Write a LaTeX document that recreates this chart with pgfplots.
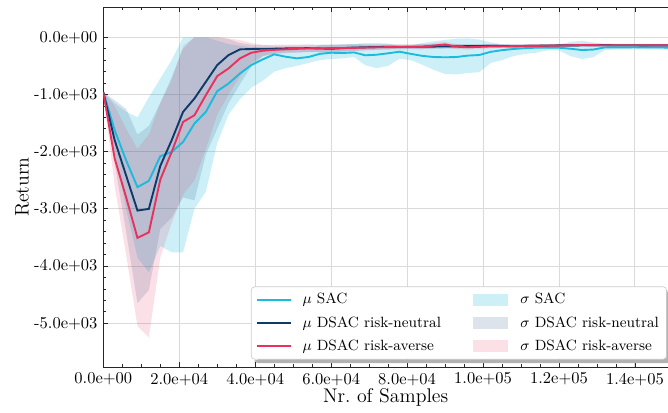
\documentclass[border=0pt]{standalone}
\usepackage{pgfplots}
\pgfplotsset{compat=1.18}
\usepackage{pgfplotstable}
\usepgfplotslibrary{fillbetween}
\usetikzlibrary{calc}

\definecolor{csac}{HTML}{1CBBDD}
\definecolor{cneu}{HTML}{0D3A6B}
\definecolor{cave}{HTML}{E8315D}
\definecolor{gridc}{HTML}{DADADA}

\pgfplotsset{
  mylineleg/.style={legend image code/.code={\draw[##1, sharp corners] (0pt,0pt) -- (21pt,0pt);}},
  myarealeg/.style={legend image code/.code={\path[##1, sharp corners] (0pt,-3.6pt) rectangle (21pt,3.6pt);}},
}

\pgfplotstableread{
x mean lo hi
0 -960 -960 -960
3000 -1625 -2000 -1150
6000 -2150 -3000 -1300
9000 -2620 -3850 -1400
12000 -2510 -4110 -1050
15000 -2080 -3650 -720
18000 -2006 -3760 -400
21000 -1831 -3760 0
24000 -1509 -3000 0
27000 -1305 -2700 0
30000 -942 -1850 -60
33000 -807 -1350 -120
36000 -632 -1080 -150
39000 -486 -880 -170
42000 -386 -760 -190
45000 -298 -600 -170
48000 -340 -540 -200
51000 -368 -500 -230
54000 -345 -450 -220
57000 -290 -400 -140
60000 -270 -380 -130
63000 -275 -370 -125
66000 -265 -345 -115
69000 -315 -490 -100
72000 -305 -540 -100
75000 -280 -500 -110
78000 -252 -375 -155
81000 -290 -400 -150
84000 -325 -480 -100
87000 -345 -570 -70
90000 -350 -640 -45
93000 -345 -650 -25
96000 -320 -625 -20
99000 -310 -610 -40
102000 -255 -450 -90
105000 -225 -400 -120
108000 -205 -330 -130
111000 -190 -290 -125
114000 -182 -270 -130
117000 -180 -230 -135
120000 -182 -230 -135
123000 -200 -330 -80
126000 -223 -380 -60
129000 -215 -350 -90
132000 -178 -225 -120
136000 -176 -210 -130
140000 -175 -210 -135
144000 -178 -215 -140
148700 -180 -215 -140
}\sac

\pgfplotstableread{
x mean lo hi
0 -960 -960 -960
3000 -1800 -2200 -1100
6000 -2415 -3400 -1250
9000 -3030 -4650 -1700
12000 -3000 -4420 -1550
15000 -2250 -3350 -1150
18000 -1800 -3150 -700
21000 -1305 -2800 -200
24000 -1070 -2850 0
27000 -779 -2050 0
30000 -486 -1600 0
33000 -310 -1150 -30
36000 -211 -820 -100
39000 -205 -500 -130
42000 -200 -330 -140
45000 -200 -280 -130
48000 -195 -265 -130
54000 -190 -255 -125
60000 -200 -270 -130
66000 -180 -235 -120
72000 -170 -215 -125
78000 -165 -205 -125
84000 -165 -210 -120
90000 -160 -200 -120
96000 -155 -190 -120
102000 -150 -180 -120
108000 -155 -185 -125
114000 -148 -175 -120
120000 -142 -170 -115
126000 -140 -165 -115
132000 -138 -162 -112
140000 -140 -165 -115
148700 -142 -168 -116
}\neu

\pgfplotstableread{
x mean lo hi
0 -960 -960 -960
3000 -2120 -2600 -1200
6000 -2795 -3800 -1600
9000 -3508 -5050 -1950
12000 -3410 -5250 -1700
15000 -2490 -3850 -1150
18000 -2006 -3250 -750
21000 -1480 -2750 -150
24000 -1363 -2500 0
27000 -1012 -1950 0
30000 -679 -1350 0
33000 -544 -1000 -20
36000 -368 -680 -50
39000 -270 -450 -100
42000 -235 -330 -130
45000 -220 -290 -150
48000 -210 -280 -150
54000 -195 -260 -140
60000 -190 -250 -130
66000 -185 -240 -130
72000 -175 -220 -130
78000 -170 -210 -130
84000 -165 -205 -125
87000 -145 -190 -100
90000 -125 -170 -80
93000 -165 -210 -120
96000 -175 -215 -135
102000 -160 -195 -125
108000 -155 -185 -125
114000 -150 -180 -120
120000 -145 -175 -115
126000 -135 -160 -110
132000 -140 -165 -115
140000 -140 -165 -115
148700 -140 -165 -115
}\ave

\begin{document}
\begin{tikzpicture}
\begin{axis}[
  scale only axis, width=342.2pt, height=218pt,
  xmin=0, xmax=148700, ymin=-5765, ymax=525,
  axis x line*=box, axis y line*=left,
  axis line style={black!85, line width=0.6pt},
  xtick={0,20000,40000,60000,80000,100000,120000,140000},
  xticklabels={0.0e+00,2.0e+04,4.0e+04,6.0e+04,8.0e+04,1.0e+05,1.2e+05,1.4e+05},
  ytick={-5000,-4000,-3000,-2000,-1000,0},
  yticklabels={-5.0e+03,-4.0e+03,-3.0e+03,-2.0e+03,-1.0e+03,0.0e+00},
  scaled x ticks=false, scaled y ticks=false,
  minor x tick num=3, minor y tick num=4,
  tick align=inside, major tick length=3pt, minor tick length=1.6pt,
  tick style={black!85, line width=0.5pt},
  xmajorgrids, ymajorgrids, major grid style={gridc, line width=0.6pt},
  xlabel={Nr.\ of Samples}, ylabel={Return},
  label style={font=\large},
  xlabel style={at={(axis description cs:0.5,-0.086)}, anchor=center},
  ylabel style={at={(axis description cs:-0.144,0.5)}, anchor=center},
  legend columns=2,
  legend cell align=left,
  legend style={name=L, at={(rel axis cs:0.998,0.021)}, anchor=south east,
    font=\small,
    draw=black!20, rounded corners=2pt, fill=white,
    inner xsep=2.6pt, inner ysep=1.8pt, row sep=2.2pt,
    /tikz/column 1/.style={column sep=4.3pt},
    /tikz/column 2/.style={column sep=17.6pt},
    /tikz/column 3/.style={column sep=5.5pt}},
]
% bands
\addplot[name path=sacL, draw=none, forget plot] table[x=x,y=lo]{\sac};
\addplot[name path=sacH, draw=none, forget plot] table[x=x,y=hi]{\sac};
\addplot[fill=csac, fill opacity=0.22, draw=none, forget plot] fill between[of=sacL and sacH];
\addplot[name path=neuL, draw=none, forget plot] table[x=x,y=lo]{\neu};
\addplot[name path=neuH, draw=none, forget plot] table[x=x,y=hi]{\neu};
\addplot[fill=cneu, fill opacity=0.14, draw=none, forget plot] fill between[of=neuL and neuH];
\addplot[name path=aveL, draw=none, forget plot] table[x=x,y=lo]{\ave};
\addplot[name path=aveH, draw=none, forget plot] table[x=x,y=hi]{\ave};
\addplot[fill=cave, fill opacity=0.15, draw=none, forget plot] fill between[of=aveL and aveH];
% means
\addplot[csac, line width=1.15pt, forget plot] table[x=x,y=mean]{\sac};
\addplot[cneu, line width=1.15pt, forget plot] table[x=x,y=mean]{\neu};
\addplot[cave, line width=1.15pt, forget plot] table[x=x,y=mean]{\ave};
% legend
\addlegendimage{mylineleg, draw=csac, line width=1.15pt}
\addlegendentry{$\mu$ SAC}
\addlegendimage{myarealeg, fill=csac, fill opacity=0.22, draw=none}
\addlegendentry{$\sigma$ SAC}
\addlegendimage{mylineleg, draw=cneu, line width=1.15pt}
\addlegendentry{$\mu$ DSAC risk-neutral}
\addlegendimage{myarealeg, fill=cneu, fill opacity=0.14, draw=none}
\addlegendentry{$\sigma$ DSAC risk-neutral}
\addlegendimage{mylineleg, draw=cave, line width=1.15pt}
\addlegendentry{$\mu$ DSAC risk-averse}
\addlegendimage{myarealeg, fill=cave, fill opacity=0.15, draw=none}
\addlegendentry{$\sigma$ DSAC risk-averse}
\end{axis}
\fill[black!30, rounded corners=2pt] ($(L.south west)+(2.2pt,-2.2pt)$) -- ($(L.south east)+(2.2pt,-2.2pt)$) -- ($(L.north east)+(2.2pt,-2.2pt)$) -- ($(L.north east)+(0pt,-2.2pt)$) -- (L.south east) -- ($(L.south west)+(2.2pt,0pt)$) -- cycle;
\pgfresetboundingbox
\path[use as bounding box] ($(current axis.south west)+(-62.6pt,-27.3pt)$) rectangle ($(current axis.north east)+(0pt,4.4pt)$);
\end{tikzpicture}
\end{document}
